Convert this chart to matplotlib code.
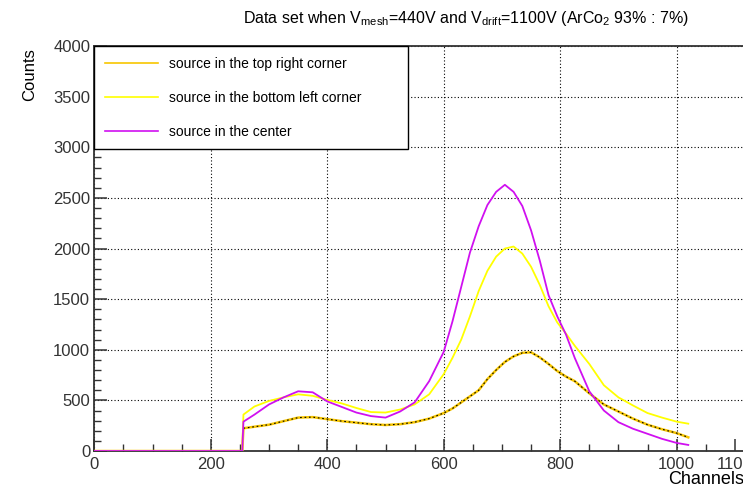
import numpy as np
import matplotlib
matplotlib.use("Agg")
import matplotlib.pyplot as plt

plt.rcParams['font.family'] = ['Liberation Sans', 'DejaVu Sans']
plt.rcParams['mathtext.fontset'] = 'custom'
plt.rcParams['mathtext.rm'] = 'Liberation Sans'
plt.rcParams['mathtext.it'] = 'Liberation Sans'

# channel positions where the spectra were read
channels = [0, 254, 256, 275, 300, 325, 350, 375, 400, 425, 450, 475, 500, 525,
            550, 575, 600, 615, 630, 645, 660, 675, 690, 705, 720, 735, 750, 765,
            780, 795, 810, 825, 850, 875, 900, 925, 950, 975, 1000, 1020]

# source in the top right corner
top_right = [0, 0, 225, 240, 260, 295, 330, 335, 315, 295, 280, 265, 257, 265,
             285, 320, 375, 420, 480, 540, 600, 710, 800, 880, 935, 970, 975, 925,
             860, 790, 735, 690, 570, 460, 390, 320, 260, 215, 177, 135]

# source in the bottom left corner
bottom_left = [0, 0, 360, 440, 495, 530, 560, 545, 505, 470, 425, 385, 380, 410,
               460, 560, 760, 920, 1100, 1330, 1580, 1780, 1920, 2000, 2020, 1950,
               1820, 1640, 1430, 1270, 1160, 1040, 860, 650, 530, 450, 375, 330, 290, 270]

# source in the center
center = [0, 0, 290, 360, 460, 530, 590, 580, 490, 435, 380, 345, 330, 390,
          480, 690, 980, 1280, 1620, 1960, 2220, 2430, 2560, 2630, 2560, 2420,
          2180, 1880, 1540, 1330, 1150, 920, 590, 400, 285, 220, 170, 120, 80, 60]

labels = ["source in the top right corner",
          "source in the bottom left corner",
          "source in the center"]

gold = '#f7c600'
yellow = '#ffff00'
violet = '#d010f0'

fig = plt.figure(figsize=(7.43, 4.92), dpi=100)
ax = fig.add_axes([0.127, 0.0833, 0.884, 0.823])

ch = np.array(channels)
tr = np.array(top_right)
l1, = ax.plot(ch, tr, color=gold, lw=1.8, zorder=3)
on = tr > 0
ax.plot(ch[on], tr[on], color='black', lw=0.8, ls=(0, (1.5, 2.5)), zorder=3.5)
l2, = ax.plot(channels, bottom_left, color=yellow, lw=1.3, zorder=4)
l3, = ax.plot(channels, center, color=violet, lw=1.3, zorder=5)

ax.set_xlim(0, 1128)
ax.set_ylim(0, 4000)
ax.set_xticks([0, 200, 400, 600, 800, 1000, 1100])
ax.set_xticks(np.arange(0, 1128, 50), minor=True)
ax.set_yticks(np.arange(0, 4001, 500))
ax.set_yticks(np.arange(0, 4001, 100), minor=True)
ax.tick_params(which='both', direction='in', colors='#333333', labelsize=12,
               top=False, right=False)
ax.tick_params(which='major', length=9, width=1.1)
ax.tick_params(which='minor', length=5, width=1.0)
ax.tick_params(axis='x', pad=4)
ax.tick_params(axis='y', pad=3)
ax.grid(True, which='major', color='black', ls=(0, (1, 2)), lw=0.8)
ax.get_xgridlines()[-1].set_visible(False)
ax.set_axisbelow(True)
for s in ['left', 'bottom', 'top']:
    ax.spines[s].set_color('#333333')
    ax.spines[s].set_linewidth(1.3)
ax.spines['right'].set_visible(False)

leg = ax.legend([l1, l2, l3], labels, loc='upper left', bbox_to_anchor=(0, 1, 0.477, 0),
                mode='expand', borderaxespad=0, fontsize=10, handlelength=3.8,
                handletextpad=0.85, labelspacing=1.45, borderpad=0.75,
                fancybox=False, framealpha=1, edgecolor='black')
leg.get_frame().set_linewidth(1.0)
for ln in leg.get_lines():
    ln.set_linewidth(1.2)
    ln.set_linestyle('-')

fig.text(0.627, 1 - 18 / 492,
         r"Data set when V$_{\mathrm{mesh}}$=440V and V$_{\mathrm{drift}}$=1100V (ArCo$_{2}$ 93% : 7%)",
         ha='center', va='center', fontsize=11.5)
fig.text(30 / 743, 1 - 48 / 492, "Counts", rotation=90, ha='center', va='top', fontsize=12)
fig.text(668 / 743, 1 - 480 / 492, "Channels", ha='left', va='center', fontsize=13)

fig.savefig("out.png", dpi=100)
